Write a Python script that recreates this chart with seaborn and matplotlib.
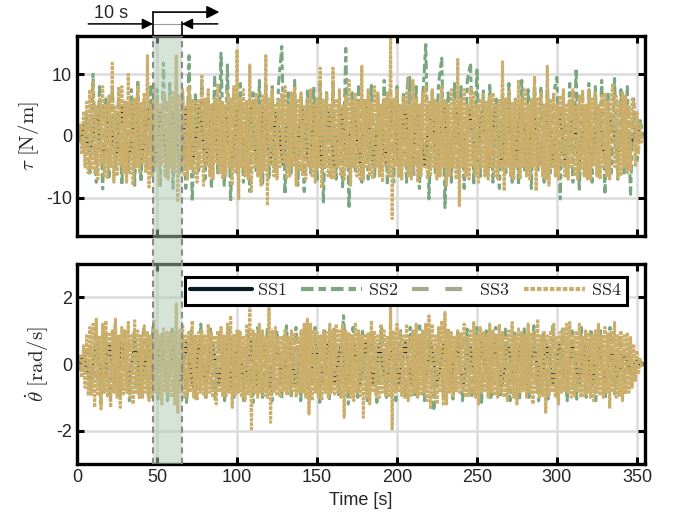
import numpy as np
import pandas as pd
import matplotlib
matplotlib.use('Agg')
import matplotlib.pyplot as plt
import seaborn as sns
from matplotlib.lines import Line2D
from matplotlib.patches import Rectangle
from matplotlib.transforms import blended_transform_factory

# signal extrema (time runs evenly from 0 to 354 s)
t_end = 354

tau_ss1 = [0, 1.5, -3, 4, -4.5, 4, -4, 4.5, -4, 4.5,
           -4, 4.5, -4.5, 4, -4.5, 4, -5, 4.5, -4, 4.5,
           -4.5, 5, -4.5, 4, -4.5, 4.5, -4, 4.5, -5, 4.5,
           -4.5, 4, -4.5, 5, -4, 4.5, -4.5, 4.5, -4.5, 4,
           -5, 4.5, -4, 4.5, -4.5, 5, -4.5, 4, -4.5, 4.5,
           -4, 4.5, -5, 4.5, -4.5, 4, -4.5, 5, -4, 4.5,
           -4.5, 4.5, -4.5, 4, -5, 4.5, -4, 4.5, -4.5, 5,
           -4.5, 4, -4.5, 4.5, -4, 4.5, -5, 4.5, -4.5, 4,
           -4.5, 4.5, -4, 3.5, -3, 2.5, -1.5, 1, 0]
tau_ss2 = [0, 0.8, -2, 3.5, -6, 10, -7.5, 8, -8.6, 6,
           -7, 8, -5, 7, -8, 5.5, -6, 7.5, -8, 9,
           -7.5, 6, -5, 8, -6, 7.5, -8, 11.8, -7, 8.5,
           -8.5, 9, -6, 7, -8.5, 13, -10.7, 7, -6, 9,
           -7, 6, -8.5, 9.5, -6, 13.4, -8, 11.5, -10.7, 7,
           -6, 8.5, -7.5, 6, -9, 7, -6, 9, -8, 8.5,
           -7, 8, -6, 8.5, 14.5, -9.5, 7, -6, 9, -8,
           6.5, -9, 7.5, -6, 8, -7.5, 9, -10.7, 7, -6,
           8.5, -7, 6, -8.5, 14.2, -11.8, 7, -6, 8, -7.5,
           6, -7, 8.5, -7, 7, -6, 9, -8, 7, -7.5,
           8, -6.5, 7, -7.5, 9.5, -6, 8, -8.5, 6, 14.8,
           -10.2, 7, -6, 8.5, 12.6, -11.6, 7, -7.5, 8.5, -6,
           8, -8.5, 9, 11.8, -8, 11, -7, 7.5, -6, 8.5,
           -7.5, 6, -8.5, 7, -6, 8.5, -7.5, 6, -8, 9,
           -6, 7.5, -8.5, 9, -6, 8, -7.5, 8.5, -6, 7,
           9.5, -10.2, 7, -6, 8.5, -7.5, 11, -9, 7, -6,
           8.5, -7.5, 8, -6, 9, -9.5, 7, -6, 9.5, -7,
           7.5, -6, 8, -9.7, 6, -4, 2.5, 0]
tau_ss3 = [0, -1.5, 3, -4.5, 5, -5, 4.5, -5, 5.5, -4.5,
           5, -5, 5, -5, 5.5, -5.5, 4.5, -5, 5, -5,
           5.5, -4.5, 5, -5.5, 5, -5, 5, -4.5, 5.5, -5.5,
           5.5, -5, 5, -5, 4.5, -5.5, 5, -5, 5.5, -5,
           5, -5, 5.5, -4.5, 5, -5.5, 5, -5, 5, -5,
           5.5, -5, 9.4, -6.5, 5, -5, 5.5, -5, 5.5, -5,
           5, -5, 5, -4.5, 5.5, -5, 5, -5.5, 5, -5,
           5, -5.5, 5, -5, 5.5, -5, 5, -5, 5, -5.5,
           5, -5, 4.5, -4, 3.5, -3, 2, -1, 0.5, 0]
tau_ss4 = [0, -0.8, 1.8, -3, 4, -5, 5.5, -6, 7.5, -5.5, 9, -6, 5, -7, 6, -4.5, 8, -6.5, 5, -7,
           6.5, -5, 11.8, -7.5, 5, -6.5, 8, -4.5, 8, -6, 5.5, -7.5, 10, -6, 5.5, -8, 6, -5, 8, -6,
           5.5, -4.5, 7, -6, 13, -8.3, 5, -6.5, 8.5, -5, 6, -8, 5, -4.5, 7, -6.5, 5, -7, 6.5, -5,
           7, -6, 13, -10.7, 6.5, -5, 7.5, -6.5, 5, -7, 8, -5.5, 6, -6, 5.5, -7.5, 6, -5, 10, -8,
           6, -5, 7.5, -6.5, 5, -7, 6, -4.5, 8.5, -6, 5.5, -7, 5, -6.5, 7.5, -5, 6, -8, 8, -6,
           14, -10.2, 6, -5, 7.5, -6.5, 5.5, -7, 11.5, -9, 6, -5, 7, -6.5, 5, -8, 6.5, -5.5, 13, -11.3,
           6, -5, 7.5, -6.5, 5, -7, 6, -5, 7, -4.5, 8, -7, 5, -6.5, 7, -5, 8, -8, 6, -5.5,
           7, -6.5, 5, -7, 6, -5, 7.5, -6.5, 5, -7.5, 6, -5, 11, -8.5, 6, -5, 7, -6.5, 5, -7,
           11, -7, 6, -5, 7.5, -6.5, 5, -7, 6.5, -5, 9, -8, 6, -5, 7, -6.5, 5.5, -7, 11.3, -7,
           6, -5, 7.5, -6.5, 5.5, -7, 8, -5, 7, -6.5, 5, -7.5, 6, -5, 7, -6.5, 15.8, -13.4, 6, -5,
           7.5, -6.5, 5, -7, 6.5, -5, 7, -6.5, 5, -7, 9, -5, 6, -7.5, 5, -6.5, 7, -5, 8, -7,
           5.5, -6.5, 7.5, -5, 6, -7, 5.5, -6.5, 8, -5, 6, -8, 5, -6.5, 7.5, -5, 6, -7, 12.4, -11.3,
           6, -5, 7.5, -6.5, 5, -7, 8, -5, 7, -6.5, 5, -7.5, 6, -5, 7, -6.5, 5.5, -7, 6.5, -5,
           7, -6.5, 5, -7, 6, -5, 12, -8.9, 6, -5, 7.5, -6.5, 5.5, -7, 6, -5, 9.1, -7, 6, -5,
           7.5, -6.5, 5, -7, 6, -5, 9.7, -8.9, 6, -5, 7, -6.5, 5, -7, 11.3, -8, 6, -5, 7, -6.5,
           5, -7, 6.5, -5, 7.5, -6.5, 5, -7, 6, -5, 7.5, -6.5, 5, -7, 6.5, -5.5, 7.5, -6.5, 5, -7,
           7.5, -7, 6, -5, 7, -6.5, 5, -7, 6.5, -5, 7, -6.5, 5.5, -7, 6, 8.5, -5, 6.5, -7, 5.5,
           -6.5, 7, -5, 6.5, -6, 5, -5.5, 6, 5.5, -5, 4, -3, 2, -1, 0]

dth_ss1 = [0, 0.2, -0.45, 0.6, -0.65, 0.6, -0.6, 0.65, -0.6, 0.65,
           -0.65, 0.6, -0.6, 0.65, -0.6, 0.6, -0.6, 0.65, -0.65, 0.6,
           -0.6, 0.65, -0.6, 0.6, -0.65, 0.6, -0.6, 0.65, -0.6, 0.6,
           -0.65, 0.6, -0.6, 0.65, -0.6, 0.6, -0.65, 0.6, -0.6, 0.65,
           -0.6, 0.6, -0.65, 0.6, -0.6, 0.65, -0.6, 0.6, -0.65, 0.6,
           -0.6, 0.65, -0.6, 0.6, -0.65, 0.6, -0.6, 0.65, -0.6, 0.6,
           -0.65, 0.6, -0.6, 0.65, -0.6, 0.6, -0.65, 0.6, -0.6, 0.65,
           -0.6, 0.6, -0.65, 0.6, -0.6, 0.65, -0.6, 0.6, -0.65, 0.6,
           -0.6, 0.55, -0.5, 0.45, -0.4, 0.3, -0.2, 0.1, 0]
dth_ss2 = [0, -0.2, 0.5, -0.9, 1.1, -1.2, 1.0, -1.1, 1.15, -1.0,
           1.05, -1.1, 1.0, -0.95, 1.1, -1.0, 1.15, -1.05, 1.0, -1.1,
           1.1, -1.0, 1.05, -1.15, 1.0, -1.1, 1.2, -1.0, 1.1, -1.05,
           1.0, -1.1, 1.15, -1.0, 1.05, -1.1, 1.0, -1.15, 1.1, -1.0,
           1.05, -1.1, 1.0, -1.05, 1.15, -1.0, 1.1, -1.1, 1.0, -1.05,
           1.1, -1.15, 1.0, -1.1, 1.05, -1.0, 1.45, -1.2, 1.1, -1.0,
           1.05, -1.1, 1.0, -1.15, 1.1, -1.0, 1.05, -1.1, 1.0, -1.05,
           1.1, -1.0, 1.15, -1.1, 1.0, -1.4, 1.05, -1.0, 1.1, -1.05,
           1.0, -1.1, 1.05, -1.0, 1.1, -1.15, 1.0, -1.05, 1.1, -1.0,
           1.05, -1.1, 1.0, -1.05, 1.1, -1.0, 1.15, -1.1, 1.0, -1.05,
           1.15, -1.0, 1.05, -1.1, 1.0, -1.05, 1.1, -1.0, 1.05, -1.1,
           1.0, -1.05, 1.1, -0.9, 0.8, -0.6, 0.5, -0.3, 0.1, 0]
dth_ss3 = [0, -0.2, 0.45, -0.65, 0.7, -0.7, 0.65, -0.7, 0.65, -0.65,
           0.7, -0.7, 0.65, -0.65, 0.7, -0.7, 0.65, -0.7, 0.7, -0.65,
           0.65, -0.7, 0.7, -0.65, 0.7, -0.65, 0.65, -0.7, 0.7, -0.65,
           0.7, -0.7, 0.65, -0.7, 0.65, -0.7, 0.7, -0.65, 0.65, -0.7,
           0.7, -0.65, 0.7, -0.65, 0.65, -0.7, 0.7, -0.65, 0.7, -0.7,
           0.65, -0.7, 0.65, -0.7, 0.7, -0.65, 0.65, -0.7, 0.7, -0.65,
           0.7, -0.65, 0.65, -0.7, 0.7, -0.65, 0.7, -0.7, 0.65, -0.7,
           0.65, -0.7, 0.7, -0.65, 0.65, -0.7, 0.7, -0.65, 0.7, -0.65,
           0.65, -0.6, 0.55, -0.5, 0.4, -0.3, 0.2, -0.1, 0]
dth_ss4 = [0, -0.1, 0.25, -0.4, 0.55, -0.7, 0.85, -0.95, 1.1, -0.9, 1.2, -1.3, 1.35, -0.9, 0.85, -1.35, 1.2, -0.85, 1.3, -1.0,
           0.9, -1.3, 1.0, -0.85, 1.35, -1.0, 0.85, -1.3, 1.1, -0.9, 1.0, -0.85, 1.25, -1.0, 0.85, -1.2, 1.3, -0.9, 1.0, -1.05,
           0.85, -1.0, 1.15, -0.85, 0.95, -1.1, 0.85, -1.0, 1.3, -0.85, 1.0, -0.95, 0.85, -1.2, 1.05, -0.85, 1.0, -0.9, 0.95, -1.0,
           0.9, -1.2, 1.8, -1.45, 1.0, -0.85, 1.2, -1.0, 0.85, -0.95, 1.0, -0.85, 1.3, -1.0, 0.85, -1.1, 0.95, -0.85, 1.0, -0.95,
           0.85, -1.0, 1.2, -0.85, 0.95, -1.0, 0.85, -1.2, 1.0, -0.85, 1.1, -0.95, 0.85, -1.0, 1.2, -0.85, 1.45, -1.3, 0.9, -0.95,
           1.0, -0.85, 0.95, -1.0, 0.85, -1.1, 1.2, -0.9, 1.75, -1.95, 1.0, -0.85, 0.95, -1.0, 1.2, -0.85, 1.0, -0.95, 0.85, -1.0,
           1.7, -1.75, 1.0, -0.85, 1.1, -0.95, 0.8, -1.0, 0.85, -0.8, 1.0, -0.9, 0.8, -0.95, 1.0, -0.8, 0.9, -1.0, 0.8, -0.85,
           1.0, -0.85, 1.2, -1.0, 1.35, -1.5, 1.2, -1.1, 1.0, -0.85, 0.95, -1.0, 0.85, -1.1, 1.0, -0.85, 0.95, -1.0, 1.2, -0.85,
           1.0, -0.95, 1.2, -0.85, 1.0, -1.0, 1.2, -1.6, 1.0, -0.85, 0.95, -1.0, 0.85, -1.1, 1.25, -0.85, 1.0, -0.95, 0.85, -1.6,
           0.9, -1.0, 0.95, -1.2, 1.3, -0.85, 1.0, -0.95, 0.85, -1.0, 1.2, -0.85, 1.0, -0.95, 0.85, -1.0, 1.75, -1.95, 1.0, -0.85,
           1.2, -0.85, 1.0, -0.95, 0.85, -1.0, 1.2, -1.1, 0.85, -0.95, 1.0, -0.85, 1.2, -1.0, 0.85, -0.95, 1.0, -0.85, 1.2, -1.1,
           1.45, -1.35, 1.2, -1.0, 0.85, -1.2, 1.1, -0.85, 1.3, -1.25, 1.55, -1.2, 1.0, -0.85, 0.95, -1.0, 0.85, -0.8, 1.0, -0.85,
           0.95, -0.8, 1.2, -1.0, 0.85, -0.95, 1.0, -0.85, 1.25, -1.0, 0.85, -1.2, 1.1, -0.85, 0.95, -0.8, 0.85, -1.0, 1.2, -0.85,
           1.0, -0.95, 0.85, -1.0, 1.2, -0.85, 0.95, -1.0, 0.85, -1.1, 1.0, -0.85, 1.25, -1.0, 0.85, -1.2, 1.1, -0.85, 0.95, -0.8,
           0.85, -1.0, 1.2, -0.85, 0.95, -1.2, 1.0, -0.85, 1.35, -1.0, 0.85, -0.95, 1.0, -1.45, 0.85, -0.95, 1.0, -0.85, 1.2, -1.0,
           0.85, -1.2, 0.95, -0.85, 1.1, -0.8, 1.2, -0.85, 1.25, -1.0, 0.85, -0.95, 1.0, -0.85, 1.2, -1.0, 0.85, -0.95, 1.0, -0.85,
           0.95, -1.0, 0.85, -1.1, 1.0, -0.85, 1.2, -0.95, 0.85, -1.0, 1.1, -0.85, 0.95, -1.3, 1.0, -0.85, 1.25, -1.0, 0.85, -0.95,
           1.0, -1.1, 0.85, -0.9, 0.95, -0.85, 0.8, -0.7, 0.6, -0.5, 0.4, -0.3, 0.15, -0.05, 0]

names = ['SS1', 'SS2', 'SS3', 'SS4']
colors = {'SS1': '#0b1d24', 'SS2': '#7aa680', 'SS3': '#a8a88c', 'SS4': '#ccae6b'}
dashes = {'SS1': '', 'SS2': (3, 1.2, 1.8, 1.2), 'SS3': (4, 4), 'SS4': (1.1, 0.45)}

# window highlighted in the figure
win_start, win_end = 47.5, 65.5


def long_frame(series):
    parts = []
    for name, vals in zip(names, series):
        parts.append(pd.DataFrame({'t': np.linspace(0, t_end, len(vals)),
                                   'value': vals, 'series': name}))
    return pd.concat(parts, ignore_index=True)


tau_df = long_frame([tau_ss1, tau_ss2, tau_ss3, tau_ss4])
dth_df = long_frame([dth_ss1, dth_ss2, dth_ss3, dth_ss4])

sns.set_style('ticks')
plt.rcParams['font.family'] = ['Liberation Sans', 'DejaVu Sans']
plt.rcParams['mathtext.fontset'] = 'cm'
plt.rcParams['axes.unicode_minus'] = False

fig, (ax1, ax2) = plt.subplots(2, 1, figsize=(6.76, 5.28), dpi=100, sharex=True)
fig.subplots_adjust(left=0.114, right=0.954, top=0.932, bottom=0.121, hspace=0.14)

for ax, df in [(ax1, tau_df), (ax2, dth_df)]:
    sns.lineplot(data=df, x='t', y='value', hue='series', style='series',
                 palette=colors, dashes=dashes, hue_order=names, style_order=names,
                 linewidth=2.2, estimator=None, sort=False, legend=False, ax=ax)
    ax.grid(True, color='#dcdcdc', lw=1.8)
    ax.set_axisbelow(True)
    ax.tick_params(direction='in', length=5, width=2.2, top=True, right=True,
                   labelsize=13, color='k')
    for sp in ax.spines.values():
        sp.set_visible(True)
        sp.set_linewidth(2.4)
        sp.set_color('k')
    ax.set_xlim(0, 355)
    ax.set_xticks(range(0, 351, 50))

ax1.set_ylim(-16.2, 16.2)
ax1.set_yticks([-10, 0, 10])
ax2.set_ylim(-3, 3)
ax2.set_yticks([-2, 0, 2])
ax1.set_xlabel('')
ax1.set_ylabel(r'$\tau\ [\mathrm{N/m}]$', fontsize=15)
ax2.set_ylabel(r'$\dot{\theta}\ [\mathrm{rad/s}]$', fontsize=15)
ax2.set_xlabel('Time [s]', fontsize=13)

handles = [Line2D([], [], color=colors[n], lw=3, dashes=dashes[n] if dashes[n] else (None, None))
           for n in names]
leg = ax2.legend(handles, [r'$\mathrm{%s}$' % n for n in names], ncol=4,
                 loc='upper right', bbox_to_anchor=(0.968, 0.935), borderaxespad=0,
                 fontsize=13, handlelength=3.4, handletextpad=0.3, columnspacing=0.8,
                 frameon=True, fancybox=False, borderpad=0.3)
leg.get_frame().set_edgecolor('k')
leg.get_frame().set_linewidth(2.2)
leg.get_frame().set_alpha(1)

# shaded window spanning both panels
y0 = ax2.get_position().y0
y1 = ax1.get_position().y1
trans = blended_transform_factory(ax2.transData, fig.transFigure)
fig.add_artist(Rectangle((win_start, y0), win_end - win_start, y1 - y0, transform=trans,
                         facecolor='#afc9b1', alpha=0.5, edgecolor='none', zorder=5))
for xv in [win_start, win_end]:
    fig.add_artist(Line2D([xv, xv], [y0, y1], transform=trans, color='#8a8a8a',
                          lw=1.5, ls=(0, (3, 2)), zorder=6))

# "10 s" marker above the top panel
tr = blended_transform_factory(ax1.transData, ax1.transAxes)
arrow = dict(arrowstyle='-|>', color='k', lw=1.1, mutation_scale=16, shrinkA=0, shrinkB=0)
ax1.annotate('', xy=(win_start, 1.06), xytext=(7, 1.06), xycoords=tr, textcoords=tr,
             arrowprops=arrow, annotation_clip=False)
ax1.annotate('', xy=(win_end, 1.06), xytext=(88, 1.06), xycoords=tr, textcoords=tr,
             arrowprops=arrow, annotation_clip=False)
ax1.plot([win_start, win_end], [1.06, 1.06], transform=tr, color='#999999', lw=0.8, clip_on=False)
ax1.plot([win_start, win_start], [1.0, 1.119], transform=tr, color='k', lw=1.2, clip_on=False)
ax1.plot([win_end, win_end], [1.0, 1.07], transform=tr, color='k', lw=1.2, clip_on=False)
ax1.annotate('', xy=(89, 1.119), xytext=(win_start, 1.119), xycoords=tr, textcoords=tr,
             arrowprops=dict(arrowstyle='-|>', color='k', lw=1.2, mutation_scale=19,
                             shrinkA=0, shrinkB=0), annotation_clip=False)
ax1.text(21, 1.11, '10 s', transform=tr, ha='center', va='center', fontsize=13)

fig.savefig('out.png', dpi=100)
